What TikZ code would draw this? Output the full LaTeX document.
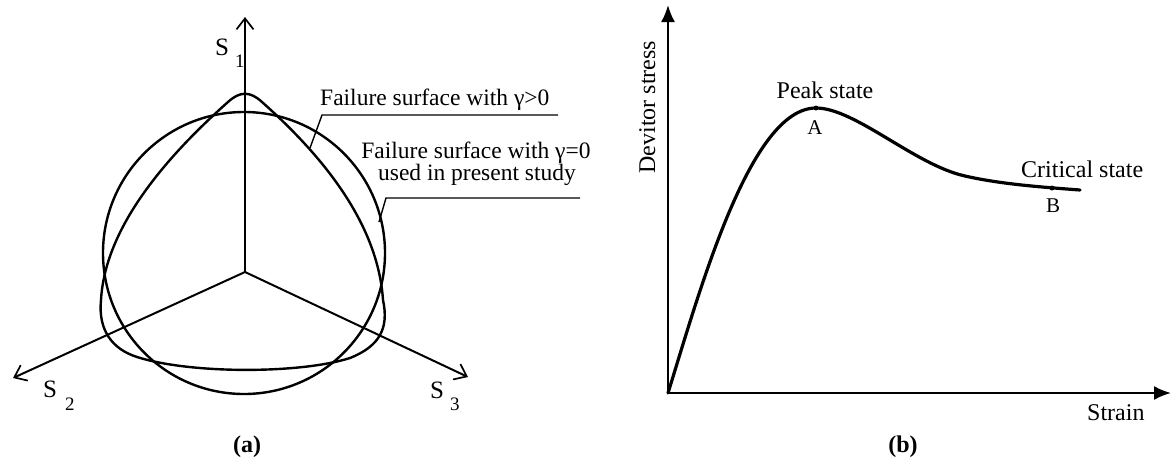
\documentclass[tikz,border=0pt]{standalone}
\usepackage{fontspec}
\setmainfont{Liberation Serif}
\usetikzlibrary{arrows.meta}
\begin{document}
\begin{tikzpicture}[x=1pt,y=-1pt,
  txt/.style={inner sep=0pt, font=\fontsize{24}{24}\selectfont},
  ftxt/.style={inner sep=0pt, font=\fontsize{23.5}{23.5}\selectfont},
  stxt/.style={inner sep=0pt, font=\fontsize{21}{21}\selectfont},
  slbl/.style={inner sep=0pt, anchor=base west, font=\fontsize{25}{25}\selectfont},
  captxt/.style={inner sep=0pt, anchor=base, font=\fontsize{24}{24}\selectfont\bfseries},
  axisS/.style={line width=2pt, -{Straight Barb[length=11pt,width=17pt,line width=1.7pt]}},
  axisB/.style={line width=2pt, -{Latex[length=17pt,width=14pt]}},
  surf/.style={line width=2.4pt},
  lead/.style={line width=1.4pt},
  curveB/.style={line width=3.2pt, line cap=round},
  dotpt/.style={circle, fill=black, inner sep=0pt, minimum size=5pt}]
\useasboundingbox (0,0) rectangle (1172,459);

% ---------- panel (a) ----------
\coordinate (J) at (245,272);
\coordinate (S1tip) at (245,17);
\coordinate (S2tip) at (13,378);
\coordinate (S3tip) at (468,377);
\draw[axisS] (J) -- (S1tip);
\draw[axisS] (J) -- (S2tip);
\draw[axisS] (J) -- (S3tip);

\node[slbl] (s1) at (215,55) {S\hspace{6pt}\raisebox{-12pt}{\fontsize{19}{19}\selectfont 1}};
\node[slbl] (s2) at (43,397) {S\hspace{8pt}\raisebox{-13pt}{\fontsize{19}{19}\selectfont 2}};
\node[slbl] (s3) at (430,398) {S\hspace{6pt}\raisebox{-12pt}{\fontsize{19}{19}\selectfont 3}};

% circle (gamma = 0)
\draw[surf] (244,253) circle[radius=141pt];

% rounded triangle (gamma > 0)
\draw[surf] (228,102) .. controls (240,91) and (250,91) .. (262,102)
  .. controls (325,158) and (378,225) .. (383,300)
  .. controls (389,328) and (380,346) .. (350,358)
  .. controls (300,374) and (190,374) .. (137,357)
  .. controls (112,349) and (98,330) .. (101,300)
  .. controls (105,228) and (165,158) .. (228,102) -- cycle;

% labels with leaders
\node[ftxt, anchor=base west] (f1) at (320,105) {Failure surface with γ>0};
\coordinate (l1a) at (310,148);
\coordinate (l1b) at (322,115);
\coordinate (l1c) at (558,115);
\draw[lead] (l1a) -- (l1b) -- (l1c);

\node[ftxt, anchor=base] (f2a) at (476,158) {Failure surface with γ=0};
\node[ftxt, anchor=base] (f2b) at (477,180) {used in present study};
\coordinate (l2a) at (379,222);
\coordinate (l2b) at (386,198);
\coordinate (l2c) at (580,198);
\draw[lead] (l2a) -- (l2b) -- (l2c);

\node[captxt] (capa) at (247,452) {(a)};

% ---------- panel (b) ----------
\coordinate (O) at (668,393);
\coordinate (Ytip) at (668,5);
\coordinate (Xtip) at (1171,393);
\draw[axisB] (O) -- (Ytip);
\draw[axisB] (O) -- (Xtip);

\coordinate (Apt) at (816,108);
\coordinate (Mid) at (965,176);
\coordinate (End) at (1080,190);
\draw[curveB] (O) .. controls (700,290) and (750,108) .. (Apt)
  .. controls (855,108) and (915,165) .. (Mid)
  .. controls (1000,184) and (1040,187) .. (End);

\node[dotpt] (A) at (Apt) {};
\node[dotpt] (B) at (1052,188) {};

\node[txt, anchor=base] (peak) at (825,98) {Peak state};
\node[stxt, anchor=base] (lA) at (815,134) {A};
\node[txt, anchor=base west] (crit) at (1021,177) {Critical state};
\node[stxt, anchor=base] (lB) at (1053,212) {B};
\node[txt, anchor=base west] (strain) at (1087,420) {Strain};
\node[txt, anchor=base, rotate=90] (dev) at (655,107) {Devitor stress};

\node[captxt] (capb) at (903,452) {(b)};
\end{tikzpicture}
\end{document}
